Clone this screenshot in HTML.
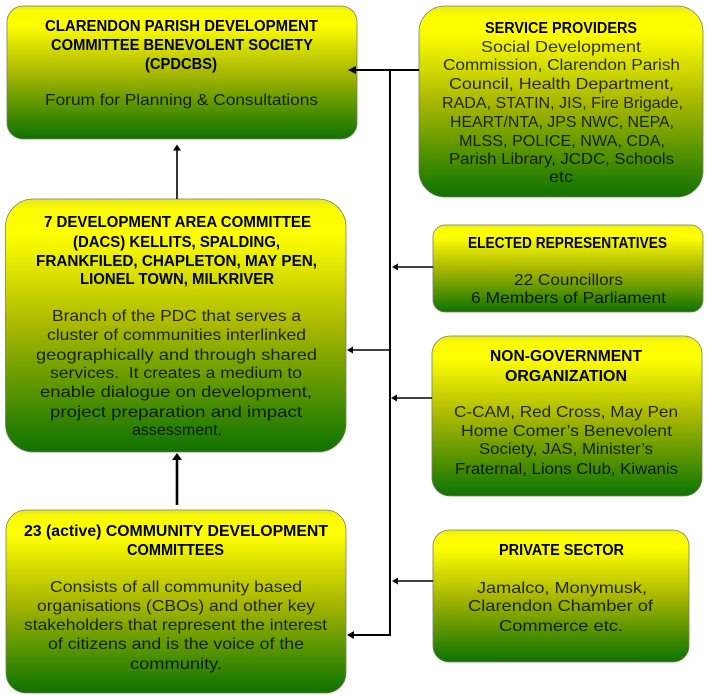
<!DOCTYPE html>
<html>
<head>
<meta charset="utf-8">
<style>
html,body{margin:0;padding:0;background:#fff;width:710px;height:695px;overflow:hidden}
svg{display:block}
text{font-family:"Liberation Sans",sans-serif}
.h{font-size:15.5px;font-weight:bold;fill:#050500}
.b{font-size:16px;fill:#000;fill-opacity:.8}
.box{stroke:#76805f;stroke-width:.8}
</style>
</head>
<body>
<svg width="710" height="695" viewBox="0 0 710 695" xmlns="http://www.w3.org/2000/svg">
<defs>
<linearGradient id="g" x1="0" y1="0" x2="0" y2="1">
<stop offset="0" stop-color="#e8e820"/>
<stop offset=".04" stop-color="#fbfb00"/>
<stop offset=".14" stop-color="#ffff00"/>
<stop offset=".5" stop-color="#a9b800"/>
<stop offset=".95" stop-color="#1c7a00"/>
<stop offset="1" stop-color="#157000"/>
</linearGradient>
<filter id="s" x="-2%" y="-2%" width="104%" height="104%"><feGaussianBlur stdDeviation="0.3"/></filter>
</defs>

<rect class="box" x="7" y="6" width="350" height="133" rx="16" fill="url(#g)"/>
<rect class="box" x="5.500" y="199" width="340.500" height="253" rx="28" fill="url(#g)"/>
<rect class="box" x="6" y="510" width="340" height="183" rx="20" fill="url(#g)"/>
<rect class="box" x="419" y="6" width="284" height="191" rx="26" fill="url(#g)"/>
<rect class="box" x="433" y="225" width="270" height="87" rx="12" fill="url(#g)"/>
<rect class="box" x="432" y="336" width="270" height="160" rx="18" fill="url(#g)"/>
<rect class="box" x="433" y="530" width="256" height="132" rx="16" fill="url(#g)"/>

<g fill="none" stroke="#000">
<path d="M419 70H354" stroke-width="2"/>
<path d="M390 70V635H354" stroke-width="2"/>
<path d="M433 267H396" stroke-width="1.6"/>
<path d="M390 350H352" stroke-width="1.6"/>
<path d="M432 398H396" stroke-width="1.6"/>
<path d="M433 581H396" stroke-width="1.6"/>
<path d="M177 199V150" stroke-width="1.6"/>
<path d="M177 505V459" stroke-width="2.6"/>
</g>
<g fill="#000">
<path d="M348 70l8-4v8z"/>
<path d="M392 267l6-3.500v7z"/>
<path d="M347 350l6-3.500v7z"/>
<path d="M391 398l6-3.500v7z"/>
<path d="M392 581l6-3.500v7z"/>
<path d="M347 635l7-4v8z"/>
<path d="M177 144.500l-4 6h8z"/>
<path d="M177 453l-5 7h10z"/>
</g>

<g filter="url(#s)">
<text class="h" x="45" y="31" textLength="273" lengthAdjust="spacingAndGlyphs">CLARENDON PARISH DEVELOPMENT</text>
<text class="h" x="51" y="50" textLength="262" lengthAdjust="spacingAndGlyphs">COMMITTEE BENEVOLENT SOCIETY</text>
<text class="h" x="145" y="69" textLength="72" lengthAdjust="spacingAndGlyphs">(CPDCBS)</text>
<text class="b" x="45" y="105" textLength="273" lengthAdjust="spacingAndGlyphs">Forum for Planning &amp; Consultations</text>

<text class="h" x="44" y="227" textLength="267" lengthAdjust="spacingAndGlyphs">7 DEVELOPMENT AREA COMMITTEE</text>
<text class="h" x="73" y="247" textLength="207" lengthAdjust="spacingAndGlyphs">(DACS) KELLITS, SPALDING,</text>
<text class="h" x="36" y="266" textLength="281" lengthAdjust="spacingAndGlyphs">FRANKFILED, CHAPLETON, MAY PEN,</text>
<text class="h" x="80" y="284" textLength="194" lengthAdjust="spacingAndGlyphs">LIONEL TOWN, MILKRIVER</text>
<text class="b" x="52" y="321" textLength="249" lengthAdjust="spacingAndGlyphs">Branch of the PDC that serves a</text>
<text class="b" x="47" y="340" textLength="259" lengthAdjust="spacingAndGlyphs">cluster of communities interlinked</text>
<text class="b" x="36" y="360" textLength="281" lengthAdjust="spacingAndGlyphs">geographically and through shared</text>
<text class="b" x="50" y="378" textLength="252" lengthAdjust="spacingAndGlyphs" xml:space="preserve">services.  It creates a medium to</text>
<text class="b" x="40" y="397" textLength="272" lengthAdjust="spacingAndGlyphs">enable dialogue on development,</text>
<text class="b" x="50" y="417" textLength="252" lengthAdjust="spacingAndGlyphs">project preparation and impact</text>
<text class="b" x="132" y="435" textLength="90" lengthAdjust="spacingAndGlyphs">assessment.</text>

<text class="h" x="24" y="536" textLength="304" lengthAdjust="spacingAndGlyphs">23 (active) COMMUNITY DEVELOPMENT</text>
<text class="h" x="127" y="555" textLength="97" lengthAdjust="spacingAndGlyphs">COMMITTEES</text>
<text class="b" x="50" y="592" textLength="252" lengthAdjust="spacingAndGlyphs">Consists of all community based</text>
<text class="b" x="37" y="611" textLength="278" lengthAdjust="spacingAndGlyphs">organisations (CBOs) and other key</text>
<text class="b" x="24" y="630" textLength="303" lengthAdjust="spacingAndGlyphs">stakeholders that represent the interest</text>
<text class="b" x="48" y="649" textLength="256" lengthAdjust="spacingAndGlyphs">of citizens and is the voice of the</text>
<text class="b" x="130" y="669" textLength="92" lengthAdjust="spacingAndGlyphs">community.</text>

<text class="h" x="485" y="33" textLength="152" lengthAdjust="spacingAndGlyphs">SERVICE PROVIDERS</text>
<text class="b" x="481" y="52" textLength="160" lengthAdjust="spacingAndGlyphs">Social Development</text>
<text class="b" x="443" y="70" textLength="237" lengthAdjust="spacingAndGlyphs">Commission, Clarendon Parish</text>
<text class="b" x="449" y="89" textLength="225" lengthAdjust="spacingAndGlyphs">Council, Health Department,</text>
<text class="b" x="442" y="108" textLength="241" lengthAdjust="spacingAndGlyphs">RADA, STATIN, JIS, Fire Brigade,</text>
<text class="b" x="450" y="127" textLength="224" lengthAdjust="spacingAndGlyphs">HEART/NTA, JPS NWC, NEPA,</text>
<text class="b" x="459" y="146" textLength="206" lengthAdjust="spacingAndGlyphs">MLSS, POLICE, NWA, CDA,</text>
<text class="b" x="449" y="164" textLength="225" lengthAdjust="spacingAndGlyphs">Parish Library, JCDC, Schools</text>
<text class="b" x="549" y="182" textLength="24" lengthAdjust="spacingAndGlyphs">etc</text>

<text class="h" x="468" y="248" textLength="199" lengthAdjust="spacingAndGlyphs">ELECTED REPRESENTATIVES</text>
<text class="b" x="514" y="285" textLength="109" lengthAdjust="spacingAndGlyphs">22 Councillors</text>
<text class="b" x="471" y="303" textLength="195" lengthAdjust="spacingAndGlyphs">6 Members of Parliament</text>

<text class="h" x="490" y="361" textLength="152" lengthAdjust="spacingAndGlyphs">NON-GOVERNMENT</text>
<text class="h" x="505" y="381" textLength="122" lengthAdjust="spacingAndGlyphs">ORGANIZATION</text>
<text class="b" x="454" y="417" textLength="224" lengthAdjust="spacingAndGlyphs">C-CAM, Red Cross, May Pen</text>
<text class="b" x="461" y="436" textLength="211" lengthAdjust="spacingAndGlyphs">Home Comer’s Benevolent</text>
<text class="b" x="479" y="454" textLength="174" lengthAdjust="spacingAndGlyphs">Society, JAS, Minister’s</text>
<text class="b" x="455" y="474" textLength="223" lengthAdjust="spacingAndGlyphs">Fraternal, Lions Club, Kiwanis</text>

<text class="h" x="499" y="555" textLength="125" lengthAdjust="spacingAndGlyphs">PRIVATE SECTOR</text>
<text class="b" x="477" y="593" textLength="170" lengthAdjust="spacingAndGlyphs">Jamalco, Monymusk,</text>
<text class="b" x="468" y="611" textLength="185" lengthAdjust="spacingAndGlyphs">Clarendon Chamber of</text>
<text class="b" x="499" y="631" textLength="124" lengthAdjust="spacingAndGlyphs">Commerce etc.</text>
</g>
</svg>
</body>
</html>
